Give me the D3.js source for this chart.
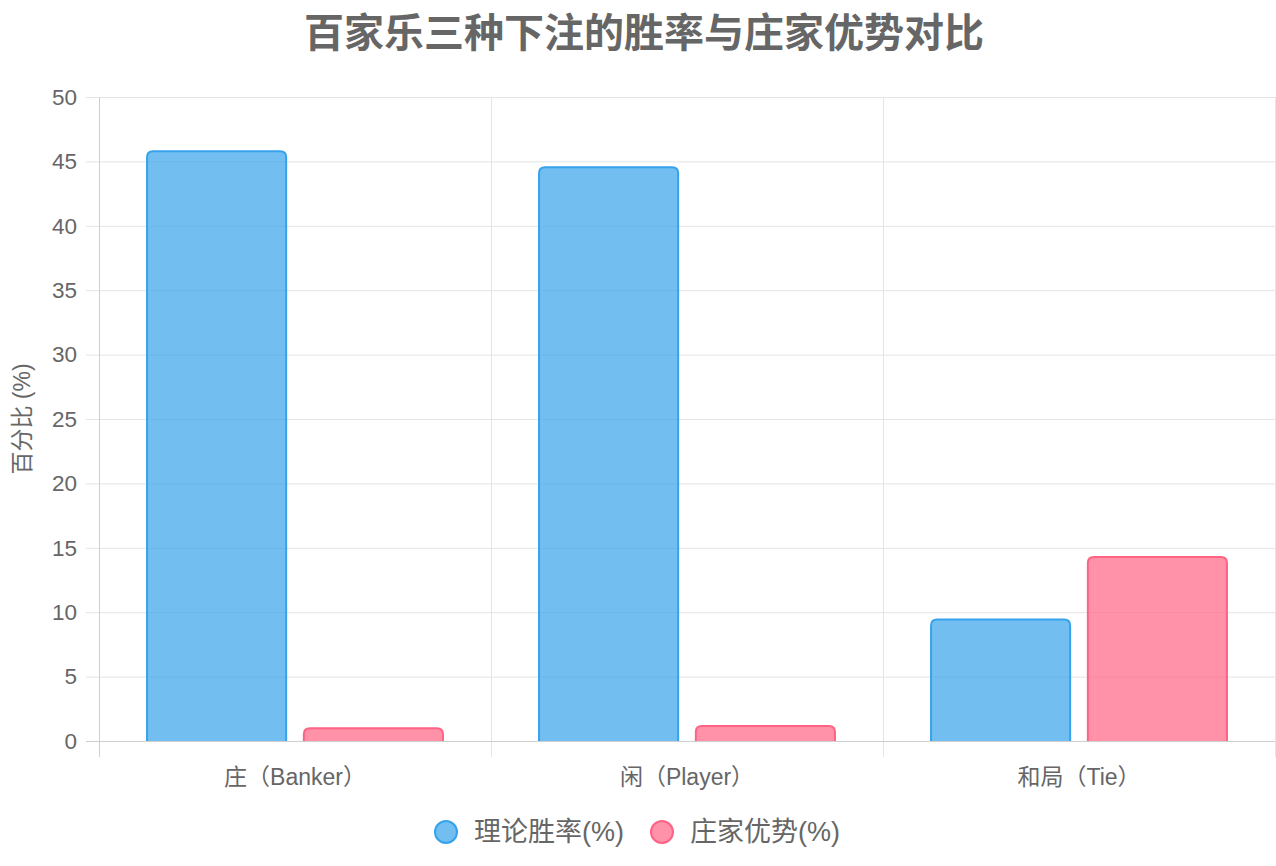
<!DOCTYPE html>
<html><head><meta charset="utf-8">
<script src="https://cdn.jsdelivr.net/npm/d3@7"></script>
<style>
html,body{margin:0;padding:0;background:#fff;}
svg{display:block;}
text{font-family:"Liberation Sans","Noto Sans CJK SC",sans-serif;fill:#666;}
</style></head>
<body>
<svg id="chart" width="1276" height="866"></svg>
<script>
const categories = ["庄（Banker）", "闲（Player）", "和局（Tie）"];
const seriesNames = ["理论胜率(%)", "庄家优势(%)"];
const winRate = [45.86, 44.62, 9.52];
const houseEdge = [1.06, 1.24, 14.36];
const yTicks = [0, 5, 10, 15, 20, 25, 30, 35, 40, 45, 50];
const title = "百家乐三种下注的胜率与庄家优势对比";
const yTitle = "百分比 (%)";

const fills = ["rgba(54,162,235,0.7)", "rgba(255,99,132,0.7)"];
const strokes = ["rgb(54,162,235)", "rgb(255,99,132)"];
const series = [winRate, houseEdge];

const svg = d3.select("#chart");
const L = 99, R = 1275, T = 97, B = 741;

const x = d3.scaleBand().domain(categories).range([L, R]).paddingInner(0).paddingOuter(0);
const y = d3.scaleLinear().domain([0, 50]).range([B, T]);
const inner = d3.scaleBand().domain([0, 1]).range([0, x.bandwidth() * 0.8]).paddingInner(0.1).paddingOuter(0.05);

// horizontal grid
svg.append("g").selectAll("line").data(yTicks).join("line")
  .attr("x1", 86).attr("x2", R).attr("y1", d => y(d) + 0.5).attr("y2", d => y(d) + 0.5)
  .attr("stroke", d => d === 0 ? "#cfcfcf" : "#e4e4e4").attr("stroke-width", 1);
// vertical grid at category boundaries
const bounds = categories.map(c => x(c)).concat([R]);
svg.append("g").selectAll("line").data(bounds).join("line")
  .attr("x1", d => d + 0.5).attr("x2", d => d + 0.5).attr("y1", T).attr("y2", 757)
  .attr("stroke", (d, i) => i === 0 ? "#cfcfcf" : "#e4e4e4").attr("stroke-width", 1);

// y tick labels
svg.append("g").selectAll("text").data(yTicks).join("text")
  .attr("x", 77).attr("y", d => y(d)).attr("dy", "0.35em")
  .attr("text-anchor", "end").style("font-size", "22.5px").text(d => d);

// x tick labels
svg.append("g").selectAll("text").data(categories).join("text")
  .attr("x", d => x(d) + x.bandwidth() / 2).attr("y", 777).attr("dy", "0.35em")
  .attr("text-anchor", "middle").style("font-size", "23px").text(d => d);

// bars
function topRounded(x0, y0, w, h, r) {
  r = Math.min(r, h, w / 2);
  return `M${x0},${y0 + h}V${y0 + r}Q${x0},${y0} ${x0 + r},${y0}H${x0 + w - r}Q${x0 + w},${y0} ${x0 + w},${y0 + r}V${y0 + h}`;
}
series.forEach((vals, si) => {
  svg.append("g").selectAll("path").data(vals).join("path")
    .attr("d", (v, i) => {
      const x0 = x(categories[i]) + x.bandwidth() * 0.1 + inner(si);
      const w = inner.bandwidth();
      const yTop = y(v);
      return topRounded(x0 + 1, yTop + 1, w - 2, B - yTop - 1, 6) ;
    })
    .attr("fill", fills[si]).attr("stroke", strokes[si]).attr("stroke-width", 2);
});

// redraw baseline over bars
svg.append("line").attr("x1", L).attr("x2", R).attr("y1", B + 0.5).attr("y2", B + 0.5)
  .attr("stroke", "#cfcfcf").attr("stroke-width", 1);

// title
svg.append("text").attr("x", 644).attr("y", 33).attr("dy", "0.35em")
  .attr("text-anchor", "middle").style("font-size", "40px").style("font-weight", "bold")
  .text(title);

// y axis title
svg.append("text").attr("transform", `translate(22,${(T + B) / 2}) rotate(-90)`)
  .attr("text-anchor", "middle").attr("dy", "0.35em").style("font-size", "23px").text(yTitle);

// legend
const legendItems = [{cx: 446, tx: 474}, {cx: 662, tx: 690}];
legendItems.forEach((p, i) => {
  svg.append("circle").attr("cx", p.cx).attr("cy", 832).attr("r", 11)
    .attr("fill", fills[i]).attr("stroke", strokes[i]).attr("stroke-width", 2);
  svg.append("text").attr("x", p.tx).attr("y", 832).attr("dy", "0.35em")
    .style("font-size", "27px").text(seriesNames[i]);
});
</script>
</body></html>
